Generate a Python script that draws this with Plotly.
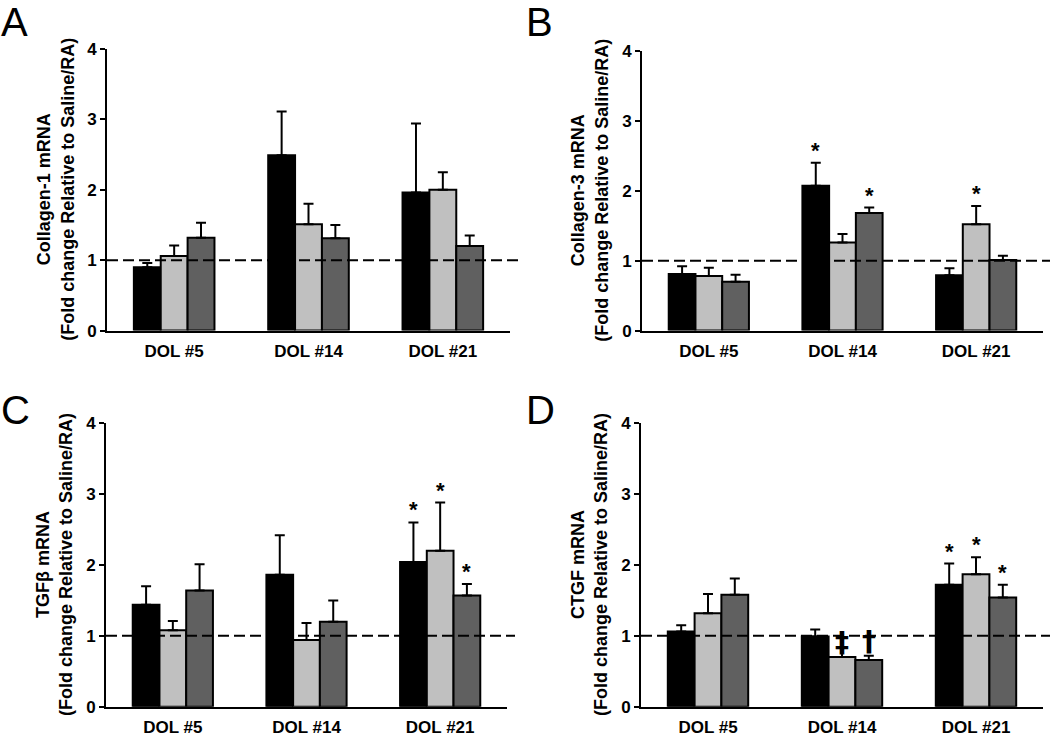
import plotly.graph_objects as go

# ---------------- data ----------------
categories = ["DOL #5", "DOL #14", "DOL #21"]
group_names = ["Group 1", "Group 2", "Group 3"]
group_colors = ["#000000", "#C0C0C0", "#606060"]

# Panel A : Collagen-1
colA_black = [0.90, 2.49, 1.96]
colA_black_err = [0.06, 0.62, 0.98]
colA_light = [1.06, 1.51, 2.00]
colA_light_err = [0.15, 0.29, 0.25]
colA_dark = [1.32, 1.31, 1.20]
colA_dark_err = [0.21, 0.19, 0.15]

# Panel B : Collagen-3
colB_black = [0.81, 2.07, 0.79]
colB_black_err = [0.11, 0.33, 0.10]
colB_light = [0.78, 1.26, 1.52]
colB_light_err = [0.12, 0.12, 0.26]
colB_dark = [0.70, 1.68, 1.01]
colB_dark_err = [0.10, 0.08, 0.06]

# Panel C : TGFbeta
colC_black = [1.44, 1.86, 2.04]
colC_black_err = [0.26, 0.56, 0.56]
colC_light = [1.08, 0.94, 2.20]
colC_light_err = [0.13, 0.24, 0.68]
colC_dark = [1.64, 1.20, 1.57]
colC_dark_err = [0.37, 0.30, 0.16]

# Panel D : CTGF
colD_black = [1.06, 0.99, 1.72]
colD_black_err = [0.09, 0.10, 0.30]
colD_light = [1.32, 0.70, 1.87]
colD_light_err = [0.27, 0.14, 0.24]
colD_dark = [1.58, 0.66, 1.54]
colD_dark_err = [0.23, 0.06, 0.18]

y_titles = [
    "Collagen-1 mRNA<br>(Fold change Relative to Saline/RA)",
    "Collagen-3 mRNA<br>(Fold change Relative to Saline/RA)",
    "TGF\u03b2 mRNA<br>(Fold change Relative to Saline/RA)",
    "CTGF mRNA<br>(Fold change Relative to Saline/RA)",
]
panel_letters = ["A", "B", "C", "D"]
y_ticks = [0, 1, 2, 3, 4]
reference_level = 1

# significance marks: (panel index, category index, group index, symbol)
marks = [
    (1, 1, 0, "*"), (1, 1, 2, "*"), (1, 2, 1, "*"),
    (2, 2, 0, "*"), (2, 2, 1, "*"), (2, 2, 2, "*"),
    (3, 2, 0, "*"), (3, 2, 1, "*"), (3, 2, 2, "*"),
    (3, 1, 1, "\u2021"), (3, 1, 2, "\u2020"),
]

panels = [
    [(colA_black, colA_black_err), (colA_light, colA_light_err), (colA_dark, colA_dark_err)],
    [(colB_black, colB_black_err), (colB_light, colB_light_err), (colB_dark, colB_dark_err)],
    [(colC_black, colC_black_err), (colC_light, colC_light_err), (colC_dark, colC_dark_err)],
    [(colD_black, colD_black_err), (colD_light, colD_light_err), (colD_dark, colD_dark_err)],
]

# ---------------- layout geometry ----------------
W, H = 1050, 744
x_domains = [(107, 510), (642, 1043), (106, 507), (641, 1043)]
y_domains = [(41, 330), (43, 330), (425, 716), (425, 716)]
letter_pos = [(-1, -11), (524, -11), (-1, 387), (524, 387)]
title_x = [56, 590, 55, 590]
mark_style = {
    "*": dict(size=22, family="Liberation Sans, Arial, sans-serif", yshift=-2),
    "\u2021": dict(size=28, family="DejaVu Sans, sans-serif", yshift=-14),
    "\u2020": dict(size=28, family="DejaVu Sans, sans-serif", yshift=-4),
}

FONT = "Liberation Sans, Arial, sans-serif"

fig = go.Figure()
layout = dict(
    width=W, height=H,
    margin=dict(l=0, r=0, t=0, b=0),
    paper_bgcolor="white", plot_bgcolor="white",
    barmode="group", bargap=0.4, bargroupgap=0,
    showlegend=False,
    font=dict(family=FONT, color="black"),
)
annotations = []
shapes = []

for p in range(4):
    sfx = "" if p == 0 else str(p + 1)
    xa, ya = "x" + sfx, "y" + sfx
    for g, (vals, errs) in enumerate(panels[p]):
        fig.add_trace(go.Bar(
            x=categories, y=vals, name=group_names[g],
            xaxis=xa, yaxis=ya,
            marker=dict(color=group_colors[g], line=dict(color="black", width=2)),
            error_y=dict(type="data", array=errs, arrayminus=[0] * len(errs),
                         symmetric=False, color="black", thickness=2, width=5),
        ))
    x0, x1 = x_domains[p]
    yt, yb = y_domains[p]
    layout["xaxis" + sfx] = dict(
        domain=[x0 / W, x1 / W], anchor=ya,
        type="category", range=[-0.5, 2.5],
        showline=True, linecolor="black", linewidth=2,
        ticks="", showgrid=False, zeroline=False,
        tickfont=dict(family=FONT, size=17, weight="bold", color="black"),
        ticklabelstandoff=4,
    )
    layout["yaxis" + sfx] = dict(
        domain=[1 - yb / H, 1 - yt / H], anchor=xa,
        range=[0, 4], tickvals=y_ticks,
        showline=True, linecolor="black", linewidth=2,
        ticks="outside", ticklen=5, tickwidth=2, tickcolor="black",
        showgrid=False, zeroline=False,
        tickfont=dict(family=FONT, size=17, weight="bold", color="black"),
    )
    # dashed reference line
    shapes.append(dict(
        type="line", xref=xa + " domain", yref=ya,
        x0=0, x1=1.02, y0=reference_level, y1=reference_level,
        line=dict(color="black", width=2, dash="11px,5px"), layer="above",
    ))
    # y title
    annotations.append(dict(
        text=y_titles[p], textangle=-90, xref="paper", yref="paper",
        x=title_x[p] / W, y=1 - (yt + yb) / 2 / H,
        xanchor="center", yanchor="middle", showarrow=False,
        font=dict(family=FONT, size=18, weight="bold", color="black"),
    ))
    # panel letter
    lx, ly = letter_pos[p]
    annotations.append(dict(
        text=panel_letters[p], xref="paper", yref="paper",
        x=lx / W, y=1 - ly / H, xanchor="left", yanchor="top", showarrow=False,
        font=dict(family=FONT, size=40, color="black"),
    ))

offsets = [-0.2, 0.0, 0.2]
for (p, c, g, sym) in marks:
    sfx = "" if p == 0 else str(p + 1)
    vals, errs = panels[p][g]
    top = vals[c] + errs[c]
    st = mark_style[sym]
    annotations.append(dict(
        text=sym, xref="x" + sfx, yref="y" + sfx,
        x=c + offsets[g], y=top, xanchor="center", yanchor="bottom",
        yshift=st["yshift"], showarrow=False,
        font=dict(family=st["family"], size=st["size"], weight="bold", color="black"),
    ))

layout["annotations"] = annotations
layout["shapes"] = shapes
fig.update_layout(**layout)
fig.write_html("out.html", config={"displayModeBar": False},
               post_script="document.body.style.margin='0px';")
